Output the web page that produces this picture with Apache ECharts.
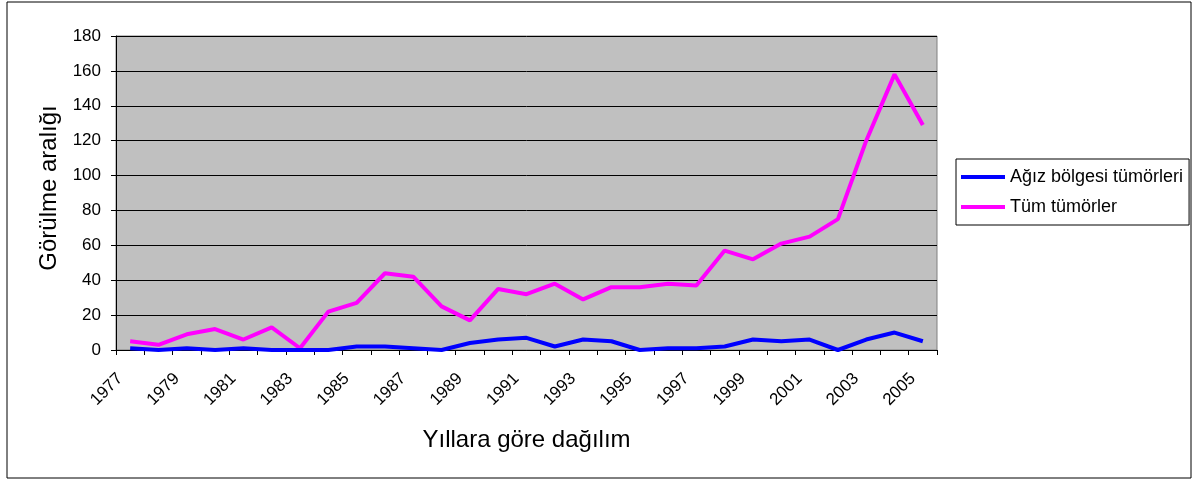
<!DOCTYPE html>
<html lang="tr">
<head>
<meta charset="utf-8">
<title>Yıllara göre dağılım</title>
<script src="https://cdn.jsdelivr.net/npm/echarts@6/dist/echarts.min.js"></script>
<style>
  html, body {
    margin: 0;
    padding: 0;
    background: #ffffff;
  }

  #chart {
    width: 1195px;
    height: 479px;
  }
</style>
</head>
<body>
<div id="chart"></div>
<script>
// categories: one per year, 1977 - 2005
const years = [
  '1977', '1978', '1979', '1980', '1981', '1982', '1983', '1984', '1985', '1986',
  '1987', '1988', '1989', '1990', '1991', '1992', '1993', '1994', '1995', '1996',
  '1997', '1998', '1999', '2000', '2001', '2002', '2003', '2004', '2005'
];

// Ağız bölgesi tümörleri
const mouthTumors = [
  1, 0, 1, 0, 1, 0, 0, 0, 2, 2,
  1, 0, 4, 6, 7, 2, 6, 5, 0, 1,
  1, 2, 6, 5, 6, 0, 6, 10, 5
];

// Tüm tümörler
const allTumors = [
  5, 3, 9, 12, 6, 13, 1, 22, 27, 44,
  42, 25, 17, 35, 32, 38, 29, 36, 36, 38,
  37, 57, 52, 61, 65, 75, 120, 158, 129
];

const seriesNames = ['Ağız bölgesi tümörleri', 'Tüm tümörler'];
const yTicks = { min: 0, max: 180, interval: 20 };

const fontFamily = '"Liberation Sans", Arial, sans-serif';

const chart = echarts.init(document.getElementById('chart'));

chart.setOption({
  animation: false,
  backgroundColor: '#ffffff',
  textStyle: {
    fontFamily,
    color: '#000000',
  },
  graphic: [
    {
      type: 'rect',
      silent: true,
      shape: { x: 7, y: 2, width: 1184, height: 476 },
      style: { fill: 'none', stroke: '#000000', lineWidth: 1 },
    },
  ],
  legend: {
    orient: 'vertical',
    left: 956,
    top: 159,
    padding: [8, 6, 8, 5],
    itemGap: 10,
    itemWidth: 44,
    itemHeight: 4,
    icon: 'rect',
    backgroundColor: '#ffffff',
    borderColor: '#000000',
    borderWidth: 1,
    borderRadius: 0,
    textStyle: {
      fontFamily,
      fontSize: 18,
      lineHeight: 20,
      color: '#000000',
    },
    data: seriesNames,
  },
  grid: {
    left: 116,
    right: 258,
    top: 36,
    bottom: 129,
    show: true,
    backgroundColor: '#c0c0c0',
    borderColor: '#808080',
    borderWidth: 1,
  },
  xAxis: {
    type: 'category',
    data: years,
    boundaryGap: true,
    name: 'Yıllara göre dağılım',
    nameLocation: 'middle',
    nameGap: 78,
    nameTextStyle: {
      fontFamily,
      fontSize: 24,
      color: '#000000',
    },
    axisLine: {
      lineStyle: { color: '#000000', width: 1 },
    },
    axisTick: {
      show: true,
      interval: 0,
      alignWithLabel: false,
      length: 5,
      lineStyle: { color: '#000000' },
    },
    axisLabel: {
      interval: 1,
      rotate: 45,
      margin: 16,
      // trailing spaces pull the rotated text down-left, as Excel places it
      formatter: (value) => value + '   ',
      fontFamily,
      fontSize: 17,
      color: '#000000',
    },
    splitLine: { show: false },
  },
  yAxis: {
    type: 'value',
    min: yTicks.min,
    max: yTicks.max,
    interval: yTicks.interval,
    name: 'Görülme aralığı',
    nameLocation: 'middle',
    nameGap: 55,
    nameTextStyle: {
      fontFamily,
      fontSize: 24,
      color: '#000000',
      padding: [0, 0, 0, 10],
    },
    axisLine: {
      show: true,
      lineStyle: { color: '#000000', width: 1 },
    },
    axisTick: {
      show: true,
      length: 5,
      lineStyle: { color: '#000000' },
    },
    axisLabel: {
      margin: 15,
      fontFamily,
      fontSize: 17,
      color: '#000000',
    },
    splitLine: {
      show: true,
      lineStyle: { color: '#000000', width: 1 },
    },
  },
  series: [
    {
      name: seriesNames[0],
      type: 'line',
      data: mouthTumors,
      showSymbol: false,
      symbol: 'none',
      color: '#0000ff',
      lineStyle: { color: '#0000ff', width: 4 },
      z: 3,
    },
    {
      name: seriesNames[1],
      type: 'line',
      data: allTumors,
      showSymbol: false,
      symbol: 'none',
      color: '#ff00ff',
      lineStyle: { color: '#ff00ff', width: 4 },
      z: 2,
    },
  ],
});
</script>
</body>
</html>
